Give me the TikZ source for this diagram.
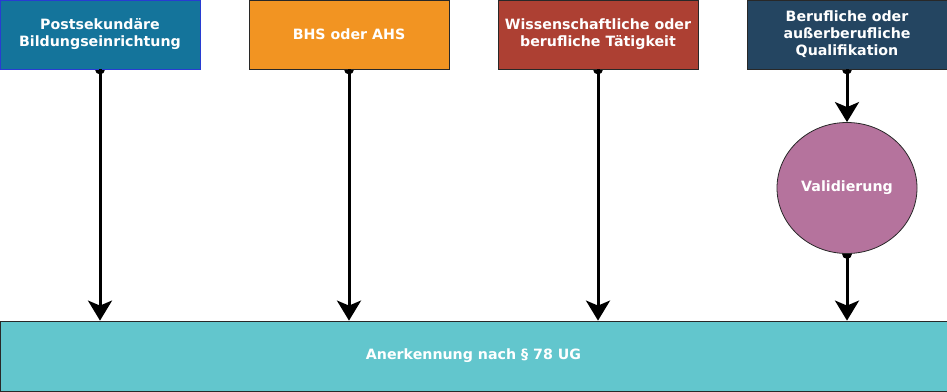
\documentclass[tikz,border=0pt]{standalone}
\usepackage{fontspec}
\setmainfont{DejaVu Sans}
\usetikzlibrary{arrows.meta,shapes.geometric,backgrounds}
\definecolor{cA}{RGB}{20,116,155}
\definecolor{cAb}{RGB}{40,60,210}
\definecolor{cB}{RGB}{242,148,34}
\definecolor{cC}{RGB}{173,64,51}
\definecolor{cD}{RGB}{36,69,97}
\definecolor{cE}{RGB}{181,115,157}
\definecolor{cF}{RGB}{98,198,205}
\definecolor{edge}{RGB}{40,40,40}
\tikzset{
  lbl/.style={text=white, font=\bfseries\fontsize{14.2}{17}\selectfont, align=center},
  topbox/.style={lbl, draw=edge, line width=0.8pt, minimum width=200pt, minimum height=69pt, inner sep=2pt},
  conn/.style={line width=3pt, -{Stealth[width=24pt,length=20pt,inset=5pt]}},
  dot/.style={fill=black}
}
\begin{document}
\begin{tikzpicture}[x=1pt,y=-1pt]
\useasboundingbox (0,0) rectangle (947,391);
\node[topbox, fill=cA, draw=cAb] (b1) at (100,34.5) {Postsekundäre\\Bildungseinrichtung};
\node[topbox, fill=cB] (b2) at (349,34.5) {BHS oder AHS};
\node[topbox, fill=cC] (b3) at (598,34.5) {Wissenschaftliche oder\\berufliche Tätigkeit};
\node[topbox, fill=cD] (b4) at (847,34.5) {Berufliche oder\\außerberufliche\\Qualifikation};
\node[lbl, ellipse, draw=edge, line width=0.8pt, fill=cE, minimum width=140pt, minimum height=131pt, inner sep=0pt] (val) at (847,188) {Validierung};
\node[lbl, draw=edge, line width=0.8pt, fill=cF, minimum width=947pt, minimum height=70pt, inner sep=0pt] (ank) at (473.5,356) {Anerkennung nach § 78 UG};
\begin{pgfonlayer}{background}
\fill[dot] (b1.south) circle (5pt);
\fill[dot] (b2.south) circle (5pt);
\fill[dot] (b3.south) circle (5pt);
\fill[dot] (b4.south) circle (5pt);
\fill[dot] (val.south) circle (5pt);
\end{pgfonlayer}
\draw[conn] (b1.south) -- (b1.south |- ank.north);
\draw[conn] (b2.south) -- (b2.south |- ank.north);
\draw[conn] (b3.south) -- (b3.south |- ank.north);
\draw[conn] (b4.south) -- (val.north);
\draw[conn] (val.south) -- (val.south |- ank.north);
\end{tikzpicture}
\end{document}
